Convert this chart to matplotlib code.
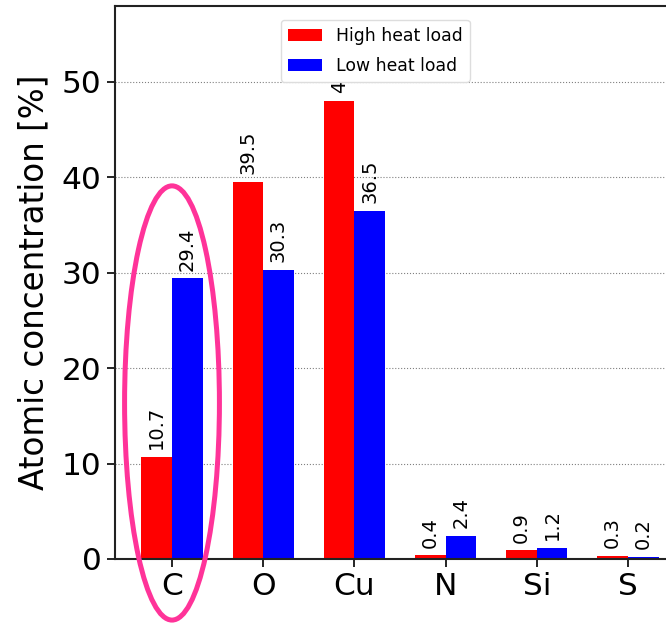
import matplotlib
matplotlib.use("Agg")
import matplotlib.pyplot as plt
import numpy as np
from matplotlib.patches import Ellipse

elements = ["C", "O", "Cu", "N", "Si", "S"]
high_heat = [10.7, 39.5, 48.0, 0.4, 0.9, 0.3]
low_heat = [29.4, 30.3, 36.5, 2.4, 1.2, 0.2]
series_names = ["High heat load", "Low heat load"]
y_ticks = [0, 10, 20, 30, 40, 50]

fig = plt.figure(figsize=(6.66, 6.25), dpi=100)
ax = fig.add_axes([115/666, 66/625, 570/666, 553.5/625])

x = np.arange(len(elements))
w = 0.335
b1 = ax.bar(x - w/2, high_heat, w, color="red", label=series_names[0], zorder=2)
b2 = ax.bar(x + w/2, low_heat, w, color="blue", label=series_names[1], zorder=2)
ax.bar_label(b1, fmt="%.1f", rotation=90, padding=5.5, fontsize=14)
ax.bar_label(b2, fmt="%.1f", rotation=90, padding=5.5, fontsize=14)

ax.set_xlim(-0.625, 5.625)
ax.set_ylim(0, 58)
ax.set_xticks(x)
ax.set_xticklabels(elements, fontsize=22.5)
ax.set_yticks(y_ticks)
ax.tick_params(axis="y", labelsize=22.5, length=6, width=1.2)
ax.tick_params(axis="x", length=6, width=1.2)
ax.set_ylabel("Atomic concentration [%]", fontsize=23.5, labelpad=8)
ax.yaxis.grid(True, linestyle=":", color="gray", linewidth=0.8, zorder=0)
ax.set_axisbelow(True)
for s in ax.spines.values():
    s.set_linewidth(1.5)
    s.set_color("#222222")

ax.legend(loc="upper left", bbox_to_anchor=(0.291, 0.974), borderaxespad=0,
          fontsize=12.4, framealpha=1.0, edgecolor="#dddddd", labelspacing=0.7)

ell = Ellipse((x[0], 16.35), 1.04, 45.5, fill=False, edgecolor="#ff3399",
              linewidth=3.6, clip_on=False, zorder=6)
ax.add_patch(ell)

fig.savefig("out.png", dpi=100)
